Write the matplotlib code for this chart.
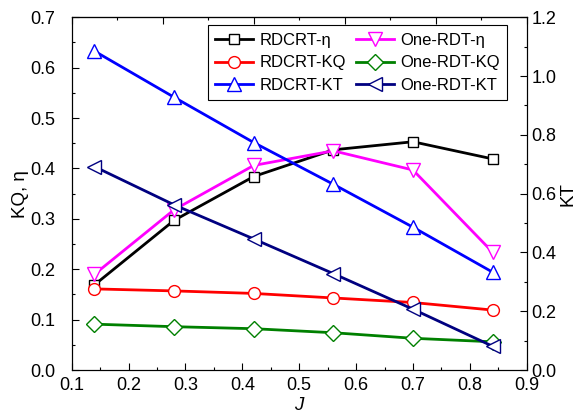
import numpy as np
import matplotlib.pyplot as plt
from matplotlib.ticker import MultipleLocator

plt.rcParams['font.family'] = ['Liberation Sans', 'DejaVu Sans']

J = [0.14, 0.28, 0.42, 0.56, 0.70, 0.84]

rdcrt_eta = [0.169, 0.297, 0.384, 0.437, 0.453, 0.419]
one_eta = [0.190, 0.318, 0.406, 0.435, 0.397, 0.234]
rdcrt_kq = [0.161, 0.157, 0.152, 0.143, 0.134, 0.119]
one_kq = [0.091, 0.086, 0.082, 0.074, 0.063, 0.056]
rdcrt_kt = [1.085, 0.928, 0.774, 0.632, 0.486, 0.333]
one_kt = [0.692, 0.562, 0.446, 0.328, 0.207, 0.081]

fig = plt.figure(figsize=(5.85, 4.19), dpi=100)
ax = fig.add_axes([0.1226, 0.1169, 0.7777, 0.8418])
ax2 = ax.twinx()

lw = 2.0
mk = dict(markerfacecolor='white', markeredgewidth=1.0)

h1, = ax.plot(J, rdcrt_eta, '-s', color='black', lw=lw, ms=7.5, markeredgecolor='black', label='RDCRT-η', **mk)
h2, = ax.plot(J, rdcrt_kq, '-o', color='red', lw=lw, ms=8.5, markeredgecolor='red', label='RDCRT-KQ', **mk)
h4, = ax.plot(J, one_eta, '-v', color='magenta', lw=lw, ms=10, markeredgecolor='magenta', label='One-RDT-η', **mk)
h5, = ax.plot(J, one_kq, '-D', color='green', lw=lw, ms=8, markeredgecolor='green', label='One-RDT-KQ', **mk)
h3, = ax2.plot(J, rdcrt_kt, '-^', color='blue', lw=lw, ms=10, markeredgecolor='blue', label='RDCRT-KT', **mk)
h6, = ax2.plot(J, one_kt, '-<', color='navy', lw=lw, ms=10, markeredgecolor='navy', label='One-RDT-KT', **mk)

ax.set_xlim(0.1, 0.9)
ax.set_ylim(0, 0.7)
ax2.set_ylim(0, 1.2)

ax.xaxis.set_major_locator(MultipleLocator(0.1))
ax.xaxis.set_minor_locator(MultipleLocator(0.05))
ax.yaxis.set_major_locator(MultipleLocator(0.1))
ax.yaxis.set_minor_locator(MultipleLocator(0.05))
ax2.yaxis.set_major_locator(MultipleLocator(0.2))
ax2.yaxis.set_minor_locator(MultipleLocator(0.1))

# top axis runs 0..1 independent of J
top = ax.secondary_xaxis('top', functions=(lambda x: (x - 0.1) / 0.8, lambda u: 0.1 + 0.8 * u))
top.xaxis.set_major_locator(MultipleLocator(0.2))
top.xaxis.set_minor_locator(MultipleLocator(0.1))
top.tick_params(which='both', direction='in', labeltop=False)
top.tick_params(which='major', length=5, width=0.8)
top.tick_params(which='minor', length=2.5, width=0.8)

for a in (ax, ax2):
    a.tick_params(which='both', direction='in', labelsize=13, width=0.8)
    a.tick_params(which='major', length=5)
    a.tick_params(which='minor', length=2.5)
    for s in a.spines.values():
        s.set_linewidth(0.8)
ax.tick_params(axis='y', pad=12)
ax.tick_params(axis='x', pad=5)

ax.xaxis.set_major_formatter(plt.FormatStrFormatter('%.1f'))
ax.yaxis.set_major_formatter(plt.FormatStrFormatter('%.1f'))
ax2.yaxis.set_major_formatter(plt.FormatStrFormatter('%.1f'))

ax.set_xlabel('J', fontsize=13.5, style='italic', labelpad=2)
ax.set_ylabel('KQ, η', fontsize=13.5, labelpad=1)
ax2.set_ylabel('KT', fontsize=13.5, labelpad=2)

leg = ax2.legend([h1, h2, h3, h4, h5, h6],
                 ['RDCRT-η', 'RDCRT-KQ', 'RDCRT-KT', 'One-RDT-η', 'One-RDT-KQ', 'One-RDT-KT'],
                 ncol=2, loc='upper right', bbox_to_anchor=(0.957, 0.977),
                 fontsize=12, handlelength=2.3, handletextpad=0.35, columnspacing=0.6,
                 labelspacing=0.45, borderpad=0.45, fancybox=False, framealpha=1,
                 edgecolor='black', borderaxespad=0)
leg.get_frame().set_linewidth(0.8)

fig.savefig('out.png', dpi=100)
